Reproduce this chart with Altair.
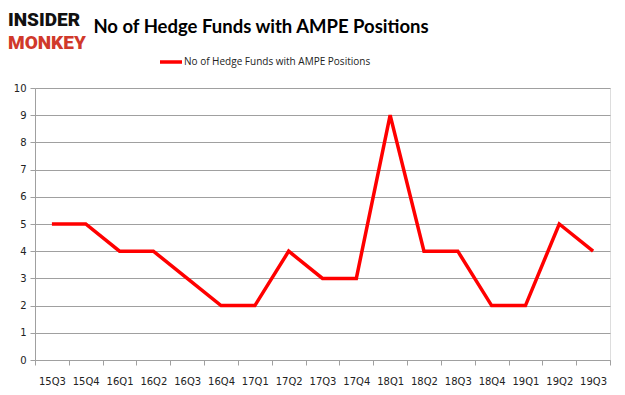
import altair as alt
import pandas as pd

quarters = ["15Q3", "15Q4", "16Q1", "16Q2", "16Q3", "16Q4", "17Q1", "17Q2", "17Q3",
            "17Q4", "18Q1", "18Q2", "18Q3", "18Q4", "19Q1", "19Q2", "19Q3"]
funds = [5, 5, 4, 4, 3, 2, 2, 4, 3, 3, 9, 4, 4, 2, 2, 5, 4]
y_ticks = list(range(0, 11))
title_text = "No of Hedge Funds with AMPE Positions"
series_name = "No of Hedge Funds with AMPE Positions"

df = pd.DataFrame({"q": quarters, "v": funds})
one = pd.DataFrame({"a": [0]})

W, H = 575, 272

line = alt.Chart(df).mark_line(color="#ff0000", strokeWidth=3.5, strokeJoin="miter").encode(
    x=alt.X("q:N", sort=quarters, bandPosition=0.5,
            scale=alt.Scale(type="band", paddingInner=0, paddingOuter=0),
            axis=alt.Axis(title=None, labelAngle=0, tickBand="extent", grid=False,
                          domainColor="#a0a0a0", tickColor="#a0a0a0", tickSize=5,
                          labelFont="DejaVu Sans", labelFontSize=10, labelColor="#222",
                          labelPadding=11)),
    y=alt.Y("v:Q", scale=alt.Scale(domain=[0, 10], nice=False),
            axis=alt.Axis(title=None, values=y_ticks, grid=True, gridColor="#a0a0a0",
                          domainColor="#a0a0a0", tickColor="#a0a0a0", tickSize=5,
                          labelFont="DejaVu Sans", labelFontSize=10, labelColor="#222",
                          labelPadding=4)),
)

title = alt.Chart(one).mark_text(text=title_text, font="Lato", fontSize=18.5, fontWeight="bold",
                                 align="center", baseline="alphabetic", color="#000").encode(
    x=alt.value(226), y=alt.value(-55))

logo1 = alt.Chart(one).mark_text(text="INSIDER", font="Roboto", fontSize=19, fontWeight=900,
                                 align="left", baseline="alphabetic", color="#111").encode(
    x=alt.value(-27), y=alt.value(-62))
logo2 = alt.Chart(one).mark_text(text="MONKEY", font="Roboto", fontSize=19, fontWeight=900,
                                 align="left", baseline="alphabetic", color="#d0392b").encode(
    x=alt.value(-27), y=alt.value(-39))

leg_line = alt.Chart(one).mark_rule(color="#ff0000", strokeWidth=3.5).encode(
    x=alt.value(125), x2=alt.value(147), y=alt.value(-26))
leg_text = alt.Chart(one).mark_text(text=series_name, font="Open Sans", fontSize=10,
                                    align="left", baseline="middle", color="#222").encode(
    x=alt.value(149), y=alt.value(-26))

chart = alt.layer(line, title, logo1, logo2, leg_line, leg_text).properties(
    width=W, height=H,
    autosize=alt.AutoSizeParams(type="none"),
    padding={"left": 27, "top": 80, "right": 7, "bottom": 27},
).configure_view(stroke=None).configure(background="white")

chart.save("out.html", embed_options={"renderer": "svg", "actions": False})
